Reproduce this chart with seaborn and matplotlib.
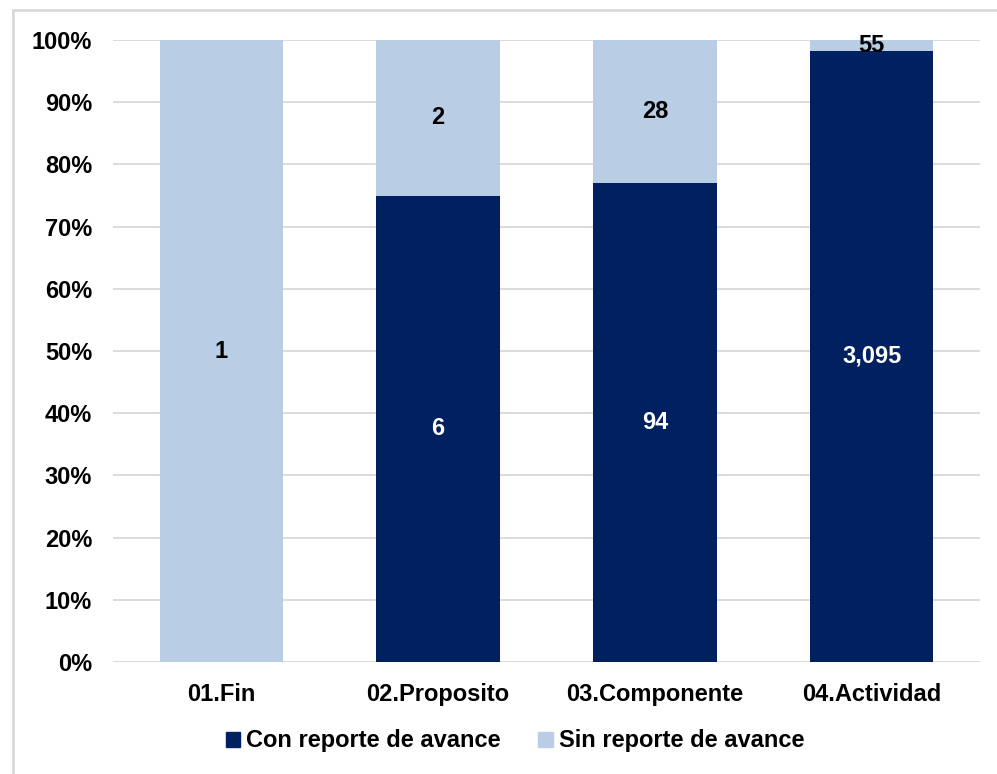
import pandas as pd
import matplotlib.pyplot as plt
import matplotlib.patches as patches
import seaborn as sns

# datos
categorias = ["01.Fin", "02.Proposito", "03.Componente", "04.Actividad"]
con_reporte = [0, 6, 94, 3095]
sin_reporte = [1, 2, 28, 55]

color_con = "#002060"
color_sin = "#B9CDE5"

df = pd.DataFrame({
    "categoria": categorias,
    "con": con_reporte,
    "sin": sin_reporte,
})
df["total"] = df["con"] + df["sin"]
df["pct_con"] = df["con"] / df["total"] * 100
df["pct_total"] = df["total"] / df["total"] * 100

sns.set_style("white")
plt.rcParams["font.family"] = ["Liberation Sans", "DejaVu Sans"]
plt.rcParams["font.weight"] = "bold"
plt.rcParams["text.color"] = "black"

fig = plt.figure(figsize=(9.97, 7.74), dpi=100)
ax = fig.add_axes([113 / 997, 1 - 662 / 774, (980 - 113) / 997, (662 - 40) / 774])

# barra completa (sin reporte) y encima la parte con reporte
sns.barplot(data=df, x="categoria", y="pct_total", color=color_sin, saturation=1,
            width=0.57, ax=ax, zorder=2, linewidth=0)
sns.barplot(data=df, x="categoria", y="pct_con", color=color_con, saturation=1,
            width=0.57, ax=ax, zorder=3, linewidth=0)

# etiquetas
for i, row in df.iterrows():
    if row["con"] > 0:
        ax.text(i, row["pct_con"] / 2, f"{row['con']:,}", ha="center", va="center",
                color="white", fontsize=17, fontweight="bold", zorder=5)
    if row["sin"] > 0:
        y = row["pct_con"] + (100 - row["pct_con"]) / 2
        ax.text(i, y, f"{row['sin']:,}", ha="center", va="center",
                color="black", fontsize=17, fontweight="bold", zorder=5, clip_on=False)

ax.set_ylim(0, 100)
ax.set_xlim(-0.5, 3.5)
ax.set_yticks(range(0, 101, 10))
ax.set_yticklabels([f"{v}%" for v in range(0, 101, 10)])
ax.set_xlabel("")
ax.set_ylabel("")
ax.tick_params(axis="both", length=0, labelsize=17, colors="black")
ax.tick_params(axis="y", pad=15)
ax.tick_params(axis="x", pad=15)
for lbl in ax.get_xticklabels() + ax.get_yticklabels():
    lbl.set_fontweight("bold")

ax.yaxis.grid(True, color="#d9d9d9", linewidth=1.3, zorder=0)
ax.set_axisbelow(True)
for s in ax.spines.values():
    s.set_visible(False)

# leyenda
handles = [patches.Patch(color=color_con), patches.Patch(color=color_sin)]
fig.legend(handles, ["Con reporte de avance", "Sin reporte de avance"],
           loc="center", bbox_to_anchor=(515 / 997, 1 - 741 / 774), ncol=2,
           frameon=False, handlelength=0.6, handleheight=0.6,
           handletextpad=0.25, columnspacing=1.6, labelcolor="black",
           prop={"weight": "bold", "size": 17})

# marco
fig.patches.append(patches.Rectangle((13 / 997, -0.05), 1.2, 1 - 10 / 774 + 0.05,
                                     transform=fig.transFigure, fill=False,
                                     edgecolor="#d9d9d9", linewidth=2))

fig.savefig("out.png", dpi=100)
